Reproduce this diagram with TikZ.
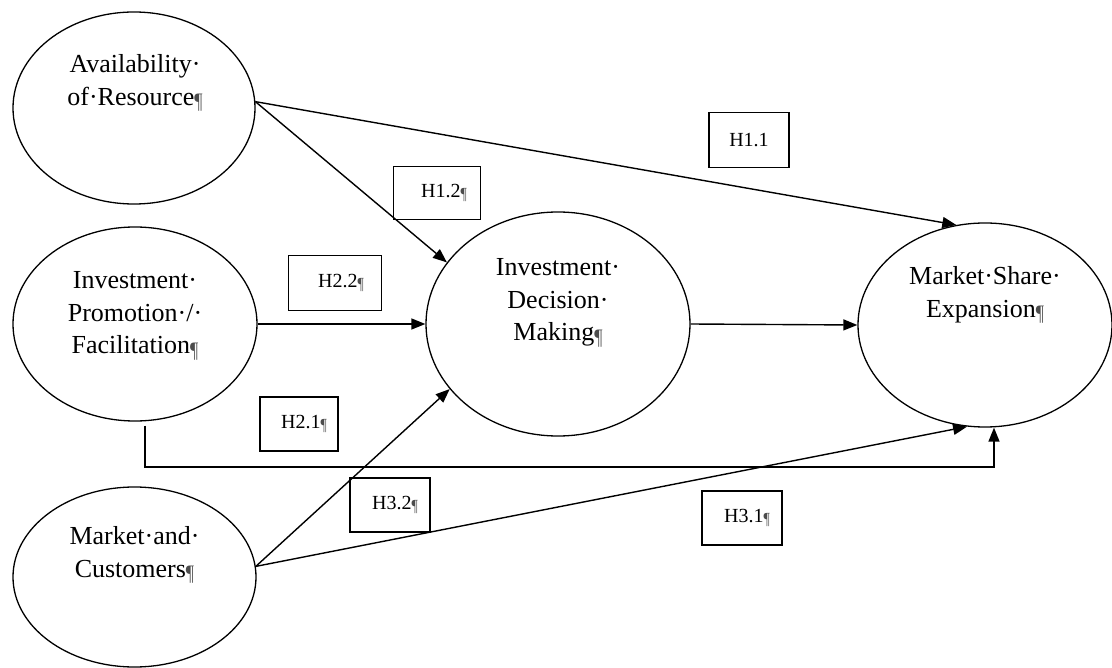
\documentclass[tikz,border=0pt]{standalone}
\usepackage{fontspec}
\setmainfont{Liberation Serif}
\usepackage{graphicx}
\usetikzlibrary{arrows.meta,calc,shapes.geometric}

% Word-style paragraph mark
\newcommand\pmark{{\color{black!70}\raisebox{-0.3ex}{\scalebox{0.7}[0.85]{¶}}}}

\begin{document}
\begin{tikzpicture}[x=1pt,y=-1pt,
  construct/.style={ellipse,draw,line width=1.3pt,inner sep=0pt},
  conlabel/.style={align=center,inner sep=0pt,font=\fontsize{26}{32.5}\selectfont},
  hypbox/.style={draw,line width=1.3pt,inner sep=0pt,font=\fontsize{20}{24}\selectfont},
  link/.style={line width=1.4pt,-{Triangle[length=14pt,width=11pt]}}
]
\useasboundingbox (0,0) rectangle (1112,668);

% constructs
\node[construct,minimum width=242pt,minimum height=192pt] (A) at (134,108) {};
\node[construct,minimum width=244pt,minimum height=194pt] (B) at (135,324) {};
\node[construct,minimum width=243pt,minimum height=180pt] (C) at (134.5,577) {};
\node[construct,minimum width=264pt,minimum height=224pt] (D) at (558,324) {};
\node[construct,minimum width=254pt,minimum height=204pt] (E) at (985,325) {};

\node[conlabel] (Atxt) at ($(A)+(1,-25)$) {Availability·\\of·Resource\pmark};
\node[conlabel] (Btxt) at ($(B)+(0,-8)$) {Investment·\\Promotion·/·\\Facilitation\pmark};
\node[conlabel] (Ctxt) at ($(C)+(0,-22)$) {Market·and·\\Customers\pmark};
\node[conlabel] (Dtxt) at ($(D)+(0,-21)$) {Investment·\\Decision·\\Making\pmark};
\node[conlabel] (Etxt) at ($(E)+(0,-30)$) {Market·Share·\\Expansion\pmark};

% hypothesis labels
\node[hypbox,minimum width=80pt,minimum height=55pt] (H11) at (749,140) {H1.1};
\node[hypbox,minimum width=87pt,minimum height=53pt] (H12) at (437,193) {\hspace*{14pt}H1.2\pmark};
\node[hypbox,minimum width=93pt,minimum height=55pt] (H22) at (335,283) {\hspace*{12pt}H2.2\pmark};
\node[hypbox,minimum width=78pt,minimum height=54pt] (H21) at (299,424) {\hspace*{10pt}H2.1\pmark};
\node[hypbox,minimum width=80pt,minimum height=54pt] (H32) at (390,505) {\hspace*{10pt}H3.2\pmark};
\node[hypbox,minimum width=80pt,minimum height=54pt] (H31) at (742,518) {\hspace*{10pt}H3.1\pmark};

% paths
\draw[link] (A.3) -- (E.106);
\draw[link] (A.3) -- (D.151);
\draw[link] (B.east) -- (D.west);
\draw[link] (D.east) -- (E.west);
\draw[link] (C.5) -- (D.211);
\draw[link] (C.5) -- (E.260);

\coordinate (Bdrop) at ($(B.south)+(10,4)$);
\coordinate (Ebend) at (994,467);
\draw[link] (Bdrop) |- (Ebend) -- (Ebend |- E.south);
\end{tikzpicture}
\end{document}
